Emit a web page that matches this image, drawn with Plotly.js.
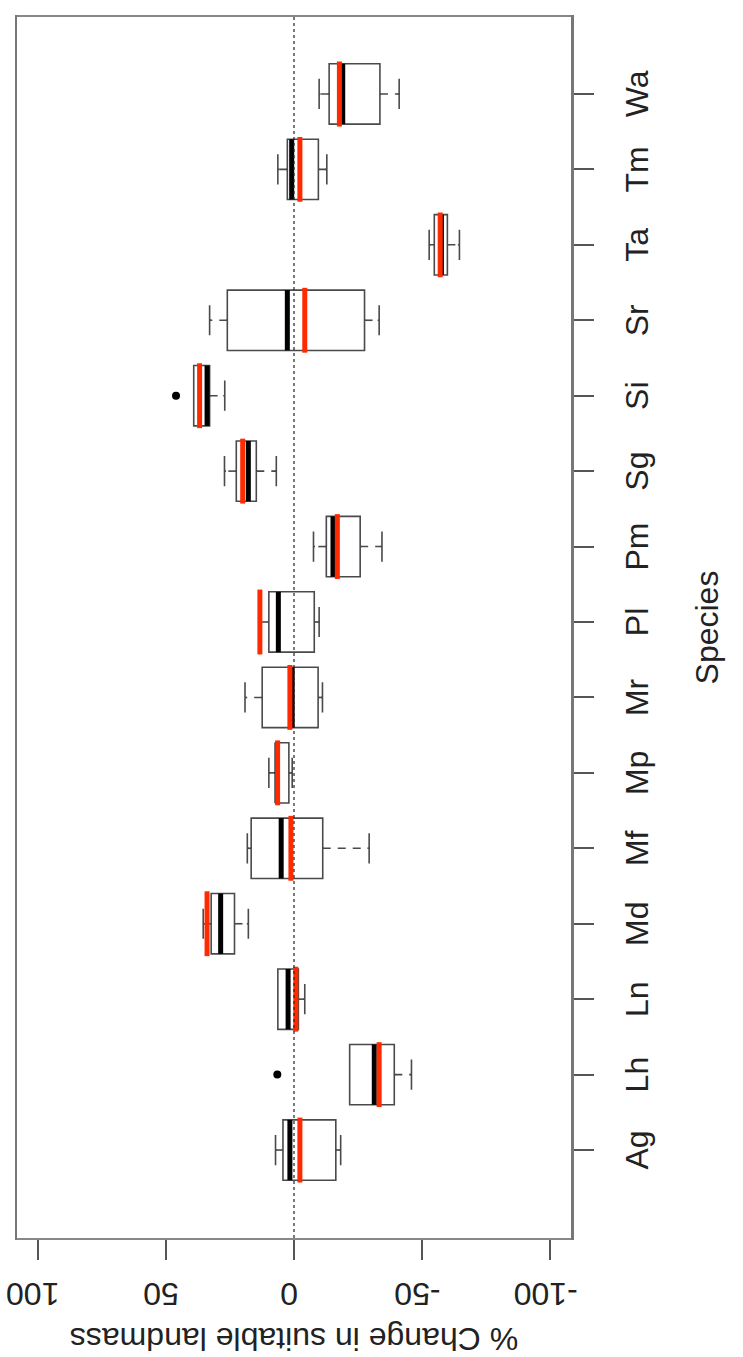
<!DOCTYPE html>
<html>
<head>
<meta charset="utf-8">
<script src="https://cdn.plot.ly/plotly-3.0.1.min.js"></script>
<style>
  html, body { margin: 0; padding: 0; background: #fff; overflow: hidden; }
  #wrap { position: absolute; left: 0; top: 0; width: 743px; height: 1357px; overflow: hidden; }
  #chart { position: absolute; left: 0; top: 0; width: 1357px; height: 743px;
           transform-origin: 0 0; transform: translate(0px, 1357px) rotate(-90deg); }
</style>
</head>
<body>
<div id="wrap"><div id="chart"></div></div>
<script>
// Species (categories), left to right in the unrotated R boxplot
const species = ['Ag','Lh','Ln','Md','Mf','Mp','Mr','Pl','Pm','Sg','Si','Sr','Ta','Tm','Wa'];
// Box statistics (% change in suitable landmass)
const upperWhisker = [ 7.2, -21.7,  6.3, 35.4, 18.2,  9.8, 19.1, 13.7,  -7.6, 27.1, 39.1,  32.9, -52.7,   6.3,  -9.8];
const q3Values     = [ 4.3, -21.7,  6.3, 32.3, 16.7,  7.2, 12.4,  9.8, -12.6, 22.5, 39.1,  26.0, -54.7,   2.6, -13.7];
const medianValues = [ 1.6, -31.3,  2.3, 28.6,  5.0,  6.6,  0.7,  6.1, -15.2, 17.8, 33.9,   2.6, -57.5,   0.9, -19.0];
const q1Values     = [-16.3, -39.1, -1.7, 23.2, -11.2, 2.0, -9.4, -7.9, -25.8, 14.7, 32.9, -27.5, -59.8,  -9.5, -33.5];
const lowerWhisker = [-18.2, -45.8, -4.2, 17.8, -29.3, 0.7, -11.1, -9.8, -34.3, 6.9, 27.0, -33.2, -64.5, -12.8, -41.0];
// Red reference line per species
const redValues    = [-2.3, -33.2, -0.7, 33.9,  1.2,  6.4,  1.6, 13.3, -16.9, 20.0, 36.8,  -4.2, -57.0,  -2.3, -17.7];
// Outliers
const outlierSpecies = ['Lh', 'Si'];
const outlierValues  = [6.5, 46.0];
// Value-axis ticks
const valueTicks = [-100, -50, 0, 50, 100];
const valueTickLabels = ['-100', '-50', '0', '50', '100'];

const pos = species.map((s, i) => i + 1);
const half = 0.4;

function segments(vals, ext) {
  const xs = [], ys = [];
  vals.forEach((v, i) => {
    xs.push(pos[i] - ext, pos[i] + ext, null);
    ys.push(v, v, null);
  });
  return {xs, ys};
}
const med = segments(medianValues, half);
const red = segments(redValues, half + 0.03);

// whisker segments (R draws them dashed)
function whiskers(insetStart, insetEnd) {
  const xs = [], ys = [];
  pos.forEach((p, i) => {
    if (upperWhisker[i] - q3Values[i] > 1) {
      xs.push(p, p, null);
      ys.push(q3Values[i] + insetStart, upperWhisker[i] - insetEnd, null);
    }
    if (q1Values[i] - lowerWhisker[i] > 1) {
      xs.push(p, p, null);
      ys.push(q1Values[i] - insetStart, lowerWhisker[i] + insetEnd, null);
    }
  });
  return {xs, ys};
}
const wWhite = whiskers(0.5, 0.6);
const wDash = whiskers(0, 0);

const narrow = '"Liberation Sans Narrow", "Liberation Sans", Arial, sans-serif';
const regular = '"Liberation Sans", Arial, sans-serif';
const boxLine = '#4a4a4a';

const data = [
  {
    type: 'box',
    x: pos,
    q1: q1Values, median: medianValues, q3: q3Values,
    lowerfence: lowerWhisker, upperfence: upperWhisker,
    width: 0.8, whiskerwidth: 0.5,
    fillcolor: '#ffffff',
    line: {color: boxLine, width: 1.6},
    boxpoints: false,
    hoverinfo: 'skip',
    showlegend: false
  },
  {
    type: 'scatter', mode: 'lines',
    x: wWhite.xs, y: wWhite.ys,
    line: {color: '#ffffff', width: 4},
    hoverinfo: 'skip', showlegend: false
  },
  {
    type: 'scatter', mode: 'lines',
    x: wDash.xs, y: wDash.ys,
    line: {color: boxLine, width: 1.6, dash: '8px,7px'},
    hoverinfo: 'skip', showlegend: false
  },
  {
    type: 'scatter', mode: 'lines',
    x: med.xs, y: med.ys,
    line: {color: '#000000', width: 5},
    hoverinfo: 'skip', showlegend: false
  },
  {
    type: 'scatter', mode: 'lines',
    x: red.xs, y: red.ys,
    line: {color: '#ff2a00', width: 5},
    hoverinfo: 'skip', showlegend: false
  },
  {
    type: 'scatter', mode: 'markers',
    x: outlierSpecies.map(s => pos[species.indexOf(s)]),
    y: outlierValues,
    marker: {color: '#000000', size: 8},
    hoverinfo: 'skip', showlegend: false
  }
];

const layout = {
  width: 1357, height: 743,
  margin: {l: 119, r: 17, t: 17, b: 172, pad: 0},
  paper_bgcolor: '#ffffff', plot_bgcolor: '#ffffff',
  showlegend: false,
  xaxis: {
    range: [-0.166, 16.02],
    tickmode: 'array', tickvals: pos, ticktext: species,
    ticks: 'outside', ticklen: 20, tickwidth: 2, tickcolor: '#555555',
    ticklabelstandoff: 16,
    showline: true, mirror: true, linecolor: '#777777', linewidth: 2.5,
    showgrid: false, zeroline: false,
    tickfont: {family: narrow, size: 32, color: '#222222'},
    title: {text: 'Species', font: {family: narrow, size: 32, color: '#222222'}, standoff: 42}
  },
  yaxis: {
    range: [-108, 108],
    tickmode: 'array', tickvals: valueTicks, ticktext: valueTickLabels,
    tickangle: -90,
    ticks: 'outside', ticklen: 20, tickwidth: 2, tickcolor: '#555555',
    ticklabelstandoff: 10,
    showline: true, mirror: true, linecolor: '#888888', linewidth: 2,
    showgrid: false, zeroline: false,
    tickfont: {family: regular, size: 32, color: '#222222'},
    title: {text: '% Change in suitable landmass', font: {family: regular, size: 32, color: '#222222'}, standoff: 10}
  },
  shapes: [{
    type: 'line', xref: 'paper', yref: 'y', x0: 0, x1: 1, y0: 0, y1: 0,
    line: {color: '#222222', width: 1.2, dash: 'dot'}, layer: 'above'
  }]
};

Plotly.newPlot('chart', data, layout, {staticPlot: true, displayModeBar: false});
</script>
</body>
</html>
